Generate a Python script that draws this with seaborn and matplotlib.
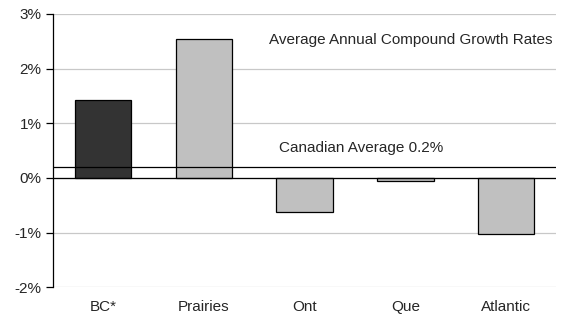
import numpy as np
import pandas as pd
import matplotlib
matplotlib.use("Agg")
import matplotlib.pyplot as plt
import seaborn as sns
from matplotlib.ticker import FuncFormatter

# data (percent)
regions = ["BC*", "Prairies", "Ont", "Que", "Atlantic"]
growth = [1.43, 2.55, -0.62, -0.05, -1.02]
bar_colors = ["#333333", "#c0c0c0", "#c0c0c0", "#c0c0c0", "#c0c0c0"]
canada_avg = 0.2

df = pd.DataFrame({"Region": regions, "Growth": growth})

sns.set_style("white")
plt.rcParams["font.family"] = ["Liberation Sans", "DejaVu Sans"]

fig = plt.figure(figsize=(5.62, 3.18), dpi=100)
ax = fig.add_axes([0.094, 0.097, 0.896, 0.859])

sns.barplot(data=df, x="Region", y="Growth", hue="Region", palette=bar_colors,
            width=0.56, edgecolor="black", linewidth=0.9, legend=False, ax=ax, zorder=3)

ax.set_ylim(-2, 3)
ax.set_yticks([-2, -1, 0, 1, 2, 3])
ax.yaxis.set_major_formatter(FuncFormatter(lambda v, p: f"{v:.0f}%"))
ax.grid(axis="y", color="#c8c8c8", linewidth=0.9, zorder=0)
ax.axhline(0, color="black", linewidth=0.9, zorder=4)
ax.axhline(canada_avg, color="black", linewidth=0.9, zorder=4)

for s in ["top", "right", "bottom"]:
    ax.spines[s].set_visible(False)
ax.spines["left"].set_color("black")
ax.spines["left"].set_linewidth(0.9)
ax.tick_params(axis="y", left=True, length=5, width=0.9, color="black", labelsize=11, pad=3)
ax.tick_params(axis="x", bottom=False, labelsize=11, pad=6)
ax.set_xlabel("")
ax.set_ylabel("")

ax.text(0.429, 0.905, "Average Annual Compound Growth Rates", transform=ax.transAxes,
        fontsize=11, va="center", ha="left")
ax.text(2.56, canada_avg + 0.35, f"Canadian Average {canada_avg}%", fontsize=11,
        va="center", ha="center")

fig.savefig("out.png", dpi=100)
